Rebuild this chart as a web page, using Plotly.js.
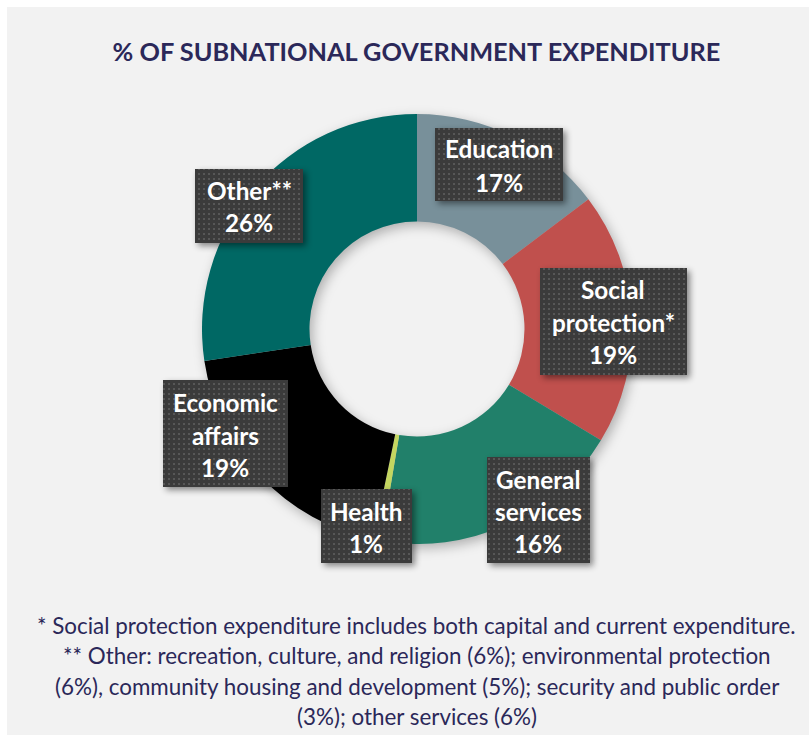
<!DOCTYPE html>
<html>
<head>
<meta charset="utf-8">
<script src="https://cdn.plot.ly/plotly-3.0.1.min.js"></script>
<style>
  html, body { margin: 0; padding: 0; background: #ffffff; }
  #chart { position: absolute; left: 7px; top: 7px; width: 802px; height: 728px; }
</style>
</head>
<body>
<svg width="0" height="0" style="position:absolute">
  <defs>
    <pattern id="dots" width="5" height="5" patternUnits="userSpaceOnUse">
      <rect width="5" height="5" fill="#3B3B3B"/>
      <rect x="1" y="1" width="2" height="2" fill="#575757"/>
    </pattern>
  </defs>
</svg>
<div id="chart"></div>
<script>
// ---- data ----
const categories = ['Education', 'Social protection*', 'General services', 'Health', 'Economic affairs', 'Other**'];
// slice shares as drawn in the picture (angles measured)
const sliceShares = [14.7, 19.0, 19.0, 0.6, 19.4, 27.4];
// percentages printed on the labels
const labelPercents = ['17%', '19%', '16%', '1%', '19%', '26%'];
const labelNames = [['Education'], ['Social', 'protection*'], ['General', 'services'], ['Health'], ['Economic', 'affairs'], ['Other**']];
const titleText = '% OF SUBNATIONAL GOVERNMENT EXPENDITURE';
const footnoteLines = [
  '* Social protection expenditure includes both capital and current expenditure.',
  '** Other: recreation, culture, and religion (6%); environmental protection',
  '(6%), community housing and development (5%); security and public order',
  '(3%); other services (6%)'
];

// ---- styles / layout positions (page pixels) ----
const sliceColors = ['#78909A', '#C0504D', '#21806A', '#C4D660', '#000000', '#006864'];
const W = 802, H = 728, OX = 7, OY = 7;
const px = X => (X - OX) / W;
const py = Y => 1 - (Y - OY) / H;
const center = {x: 417, y: 329}, radius = 215;
const boxes = [
  {x0: 435, x1: 563, y0: 128, y1: 201, cx: 499, ly: [149, 182]},
  {x0: 540, x1: 687, y0: 268, y1: 375, cx: 613, ly: [290, 322, 354]},
  {x0: 487, x1: 590, y0: 457, y1: 563, cx: 538, ly: [479, 511, 543]},
  {x0: 321, x1: 412, y0: 489, y1: 563, cx: 366, ly: [511, 543]},
  {x0: 163, x1: 288, y0: 380, y1: 487, cx: 225, ly: [403, 435, 467]},
  {x0: 195, x1: 303, y0: 169, y1: 243, cx: 249, ly: [190, 222]}
];
const footY = [625, 655, 686, 716];
const FONT = 'Lato, "Open Sans", sans-serif';
const navy = '#2B2859';

const trace = {
  type: 'pie',
  labels: categories,
  values: sliceShares,
  hole: 0.5,
  sort: false,
  direction: 'clockwise',
  rotation: 0,
  textinfo: 'none',
  hoverinfo: 'none',
  showlegend: false,
  marker: {colors: sliceColors, line: {width: 0}},
  domain: {
    x: [px(center.x - radius), px(center.x + radius)],
    y: [py(center.y + radius), py(center.y - radius)]
  }
};

const shapes = boxes.map(b => ({
  type: 'rect', xref: 'paper', yref: 'paper', layer: 'above',
  x0: px(b.x0), x1: px(b.x1), y0: py(b.y1), y1: py(b.y0),
  fillcolor: '#3B3B3B', line: {width: 0}
}));

const annotations = [];
boxes.forEach((b, i) => {
  const lines = labelNames[i].concat([labelPercents[i]]);
  lines.forEach((t, j) => {
    annotations.push({
      xref: 'paper', yref: 'paper', x: px(b.cx), y: py(b.ly[j]),
      xanchor: 'center', yanchor: 'middle', showarrow: false,
      text: '<b>' + t + '</b>',
      font: {family: FONT, size: 24.3, color: '#ffffff'}
    });
  });
});
footnoteLines.forEach((t, j) => {
  annotations.push({
    xref: 'paper', yref: 'paper', x: px(416.5), y: py(footY[j]),
    xanchor: 'center', yanchor: 'middle', showarrow: false,
    text: t,
    font: {family: FONT, size: 22.4, color: navy}
  });
});

const layout = {
  width: W, height: H,
  margin: {l: 0, r: 0, t: 0, b: 0},
  paper_bgcolor: '#F2F2F2',
  plot_bgcolor: '#F2F2F2',
  title: {
    text: '<b>' + titleText + '</b>',
    x: px(416.5), xanchor: 'center', xref: 'paper',
    y: py(52), yanchor: 'middle', yref: 'paper',
    font: {family: FONT, size: 25.3, color: navy}
  },
  shapes: shapes,
  annotations: annotations
};

Plotly.newPlot('chart', [trace], layout, {displayModeBar: false, staticPlot: true}).then(() => {
  document.querySelectorAll('.shapelayer path').forEach(p => {
    p.style.fill = 'url(#dots)';
    p.style.filter = 'drop-shadow(3px 3px 3px rgba(0,0,0,0.45))';
  });
  const pl = document.querySelector('.pielayer');
  if (pl) pl.style.filter = 'drop-shadow(3px 4px 6px rgba(0,0,0,0.28))';
});
</script>
</body>
</html>
